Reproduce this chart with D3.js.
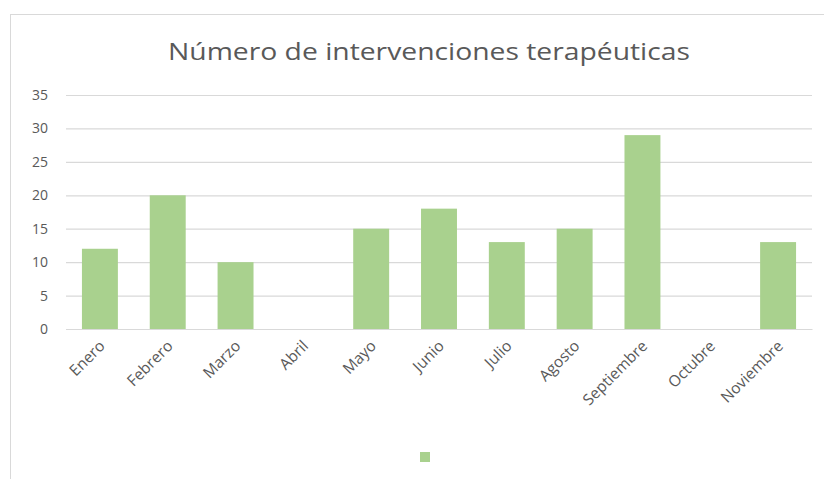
<!DOCTYPE html>
<html><head><meta charset="utf-8">
<script src="https://cdn.jsdelivr.net/npm/d3@7"></script>
<style>body{margin:0;background:#fff}svg{display:block}</style>
</head><body><svg id="c" width="824" height="479"></svg>
<script>
const categories = ["Enero","Febrero","Marzo","Abril","Mayo","Junio","Julio","Agosto","Septiembre","Octubre","Noviembre"];
const values = [12,20,10,0,15,18,13,15,29,0,13];
const yTicks = [0,5,10,15,20,25,30,35];
const title = "Número de intervenciones terapéuticas";

const svg = d3.select("#c");
const font = "'Open Sans', 'Liberation Sans', sans-serif";
const textColor = "#595959";

svg.append("rect").attr("x",10.5).attr("y",14.5).attr("width",830).attr("height",500)
  .attr("fill","#fff").attr("stroke","#d9d9d9");

const x = d3.scaleBand().domain(categories).range([66,812]).paddingInner(0.47).paddingOuter(0.235);
const y = d3.scaleLinear().domain([0,35]).range([329,95]);

svg.append("text").attr("x",429).attr("y",60).attr("text-anchor","middle")
  .attr("font-family",font).attr("font-size",24).attr("fill",textColor)
  .attr("textLength",522).attr("lengthAdjust","spacingAndGlyphs").text(title);

const ya = svg.append("g").attr("transform","translate(66,0)")
  .call(d3.axisLeft(y).tickValues(yTicks).tickSize(-(812-66)).tickPadding(18));
ya.select(".domain").remove();
ya.selectAll("line").attr("stroke","#d9d9d9").attr("stroke-width",1.2);
ya.selectAll("text").attr("font-family",font).attr("font-size",14).attr("fill",textColor);

svg.append("g").selectAll("rect").data(values).join("rect")
  .attr("x",(d,i)=>x(categories[i])).attr("width",x.bandwidth())
  .attr("y",d=>y(d)).attr("height",d=>y(0)-y(d)).attr("fill","#a9d18e");

const xa = svg.append("g").attr("transform","translate(0,329)")
  .call(d3.axisBottom(x).tickSize(0).tickPadding(0));
xa.select(".domain").attr("stroke","#d9d9d9").attr("stroke-width",1.2);
xa.selectAll("text").attr("font-family",font).attr("font-size",15.5).attr("fill",textColor)
  .attr("text-anchor","end").attr("dy",0).attr("y",0)
  .attr("transform","translate(6,18) rotate(-45)");

svg.append("rect").attr("x",420).attr("y",452).attr("width",10).attr("height",10).attr("fill","#a9d18e");
</script></body></html>
